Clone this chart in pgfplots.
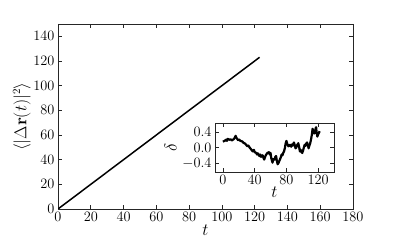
\documentclass[border=0pt]{standalone}
\usepackage{pgfplots}
\pgfplotsset{compat=1.18}
\begin{document}
\begin{tikzpicture}
\path[use as bounding box] (0,0) rectangle (393bp,246bp);
\pgfplotsset{
  every axis/.append style={
    axis line style={line width=0.9pt,black!85},
    tick align=inside, tick pos=both,
    major tick length=4bp,
    every tick/.style={black!85,line width=0.6pt},
    tick label style={font=\fontsize{14}{16}\selectfont},
    label style={font=\fontsize{16}{18}\selectfont},
  }
}
\begin{axis}[
  at={(58bp,37bp)}, anchor=south west,
  scale only axis, width=295bp, height=185bp,
  xmin=0, xmax=180, ymin=0, ymax=150,
  xtick={0,20,...,180}, ytick={0,20,...,140},
  xlabel={$t$}, ylabel={$\langle|\Delta\mathbf{r}(t)|^2\rangle$},
  xlabel style={yshift=4bp},
  ylabel style={yshift=-4bp},
]
\addplot[black, line width=1.5pt, no marks] coordinates {(0,0) (123,123)};
\end{axis}
\begin{axis}[
  at={(215bp,74bp)}, anchor=south west,
  scale only axis, width=119bp, height=49bp,
  xmin=-10, xmax=140, ymin=-0.63, ymax=0.63,
  xtick={0,40,80,120}, ytick={-0.4,0,0.4},
  yticklabel style={/pgf/number format/.cd,fixed,fixed zerofill,precision=1},
  xlabel={$t$}, ylabel={$\delta$},
  xlabel style={yshift=5bp},
  ylabel style={yshift=-1bp},
  axis background/.style={fill=white},
]
\addplot[black, line width=2.2pt, no marks, line join=round] coordinates {
(0,0.15)(2,0.17)(4,0.20)(5,0.17)(6,0.22)(8,0.20)(10,0.21)(11,0.18)(12.5,0.20)(14,0.22)(15,0.26)(16,0.30)(17,0.25)(18,0.22)(19,0.19)(20,0.21)(22,0.17)(24,0.16)(25,0.14)(26,0.12)(28,0.10)(30,0.05)(31,0.03)(32,0.05)(34,-0.01)(36,-0.06)(37.5,-0.10)(39,-0.06)(40,-0.12)(42,-0.14)(43,-0.18)(44,-0.15)(46,-0.22)(47,-0.18)(48,-0.24)(50,-0.20)(51,-0.26)(52,-0.31)(53,-0.25)(54,-0.20)(56,-0.14)(58,-0.12)(59,-0.18)(60,-0.14)(61,-0.28)(62.5,-0.39)(63.5,-0.30)(65,-0.31)(66,-0.24)(67,-0.22)(68,-0.35)(69,-0.43)(70,-0.40)(71,-0.35)(72,-0.30)(73,-0.25)(74,-0.18)(75,-0.20)(76,-0.14)(77,-0.10)(78,-0.02)(79,0.10)(80,0.17)(81,0.10)(82.5,0.03)(84,0.06)(85,0.07)(86,0.02)(87,0.08)(88,0.05)(89.5,0.13)(90.5,0.06)(91.5,-0.02)(92.5,0.0)(93.5,0.06)(95,0.11)(96,0.02)(97,-0.10)(98,-0.06)(99,-0.12)(100,-0.14)(101,-0.08)(102,0.0)(103,0.07)(104,0.04)(105,0.10)(106,0.13)(107,0.06)(108,-0.02)(109,0.05)(110,0.11)(111,0.20)(112,0.32)(113,0.48)(114,0.42)(115,0.36)(116,0.40)(117,0.50)(117.5,0.52)(118,0.40)(119,0.28)(120,0.34)(121,0.38)(122,0.42)
};
\end{axis}
\end{tikzpicture}
\end{document}
